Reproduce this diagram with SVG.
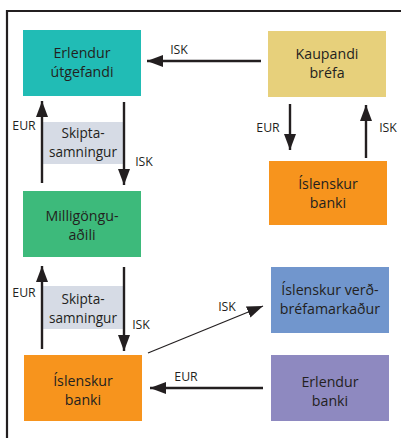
<svg xmlns="http://www.w3.org/2000/svg" width="401" height="438" viewBox="0 0 401 438">
<defs>
<style>
.t{font-family:"Open Sans","Noto Sans",sans-serif;font-size:14.2px;fill:#231f20;text-anchor:middle}
.w{font-family:"Open Sans","Noto Sans",sans-serif;font-size:13.6px;fill:#231f20;text-anchor:middle}
.l{font-family:"Open Sans","Noto Sans",sans-serif;font-size:12.3px;fill:#231f20;text-anchor:middle}
.a{stroke:#231f20;stroke-width:2.4;fill:none;marker-end:url(#ah)}
.d{stroke:#231f20;stroke-width:1.2;fill:none;marker-end:url(#ah)}
.s{fill:#d6dbe5}
</style>
<marker id="ah" viewBox="0 0 16 12" refX="16" refY="6" markerWidth="16" markerHeight="12" markerUnits="userSpaceOnUse" orient="auto">
<path d="M0,0 L16,6 L0,12 z" fill="#231f20"/>
</marker>
</defs>
<rect width="401" height="438" fill="#ffffff"/>
<path d="M7,438 V11 H401" stroke="#231f20" stroke-width="2.2" fill="none"/>

<g id="swap1"><rect class="s" x="43" y="122" width="80" height="42"/><text class="w" x="83" y="138">Skipta-</text><text class="w" x="83" y="156.5">samningur</text></g>
<g id="swap2"><rect class="s" x="43" y="286" width="80" height="43"/><text class="w" x="83" y="304">Skipta-</text><text class="w" x="83" y="322.5">samningur</text></g>

<g id="connectors">
<line class="a" x1="261" y1="61" x2="147" y2="61"/>
<line class="a" x1="42" y1="183" x2="42" y2="101"/>
<line class="a" x1="124" y1="102" x2="124" y2="185"/>
<line class="a" x1="42" y1="349" x2="42" y2="266"/>
<line class="a" x1="124" y1="267" x2="124" y2="351"/>
<line class="a" x1="263" y1="388" x2="150" y2="388"/>
<line class="d" x1="148" y1="353" x2="263" y2="306"/>
<line class="a" x1="290" y1="104" x2="290" y2="150"/>
<line class="a" x1="366" y1="158" x2="366" y2="105"/>
<text class="l" x="179" y="54">ISK</text>
<text class="l" x="24" y="130">EUR</text>
<text class="l" x="144" y="166">ISK</text>
<text class="l" x="24" y="297">EUR</text>
<text class="l" x="141" y="329">ISK</text>
<text class="l" x="227" y="311">ISK</text>
<text class="l" x="186" y="381">EUR</text>
<text class="l" x="268" y="132">EUR</text>
<text class="l" x="388" y="132">ISK</text>
</g>

<g id="erlendur-utgefandi"><rect x="23" y="30" width="118" height="66" fill="#21bcb5"/><text class="t" x="82" y="58">Erlendur</text><text class="t" x="82" y="77">útgefandi</text></g>
<g id="milligongu"><rect x="23" y="191" width="118" height="66" fill="#3dba7b"/><text class="t" x="82" y="221">Milligöngu-</text><text class="t" x="82" y="240">aðili</text></g>
<g id="islenskur-banki-1"><rect x="24" y="355" width="118" height="66" fill="#f7941d"/><text class="t" x="83" y="386">Íslenskur</text><text class="t" x="83" y="404.5">banki</text></g>
<g id="kaupandi"><rect x="268" y="31" width="118" height="66" fill="#e7d07b"/><text class="t" x="327" y="59">Kaupandi</text><text class="t" x="327" y="78">bréfa</text></g>
<g id="islenskur-banki-2"><rect x="269" y="161" width="118" height="64" fill="#f7941d"/><text class="t" x="328" y="189">Íslenskur</text><text class="t" x="328" y="208">banki</text></g>
<g id="verdbrefamarkadur"><rect x="271" y="267" width="118" height="66" fill="#7196cd"/><text class="t" x="330" y="295">Íslenskur verð-</text><text class="t" x="330" y="314">bréfamarkaður</text></g>
<g id="erlendur-banki"><rect x="271" y="355" width="118" height="66" fill="#8e89c0"/><text class="t" x="330" y="387">Erlendur</text><text class="t" x="330" y="405.5">banki</text></g>
</svg>
